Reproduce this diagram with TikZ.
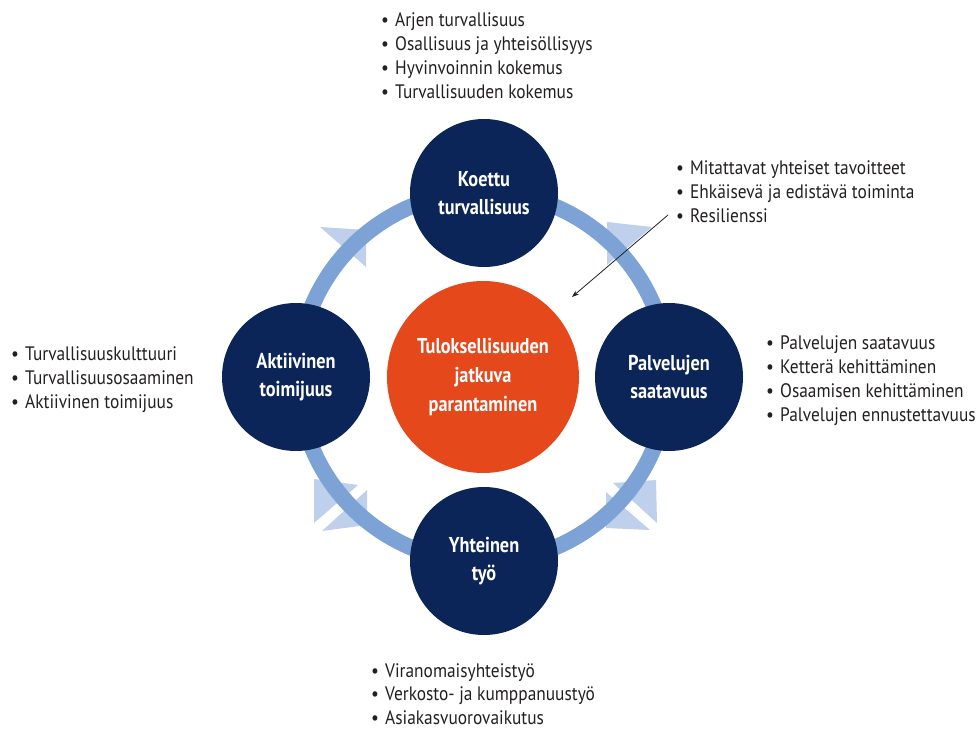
\documentclass[tikz,border=0pt]{standalone}
\usepackage{fontspec}
\setmainfont{PT Sans}[UprightFeatures={FakeStretch=0.89},BoldFeatures={FakeStretch=0.85}]
\usetikzlibrary{arrows.meta}
\definecolor{MyNavy}{RGB}{11,37,89}
\definecolor{MyOrange}{RGB}{228,72,27}
\definecolor{MyRing}{RGB}{125,163,214}
\definecolor{MyTip}{RGB}{190,208,235}
\definecolor{MyText}{RGB}{35,31,32}
\tikzset{
    theme/.style={
      circle,
      fill=MyNavy,
      minimum size=148pt,
      inner sep=0pt,
      text=white,
      align=center,
      font=\fontsize{21.5}{28}\selectfont\bfseries
    },
    core/.style={
      theme,
      fill=MyOrange,
      minimum size=192pt,
      font=\fontsize{21.5}{29}\selectfont\bfseries
    },
    point/.style={
      anchor=base west,
      inner sep=0pt,
      text=MyText,
      font=\fontsize{19.5}{24}\selectfont
    },
    chevron/.style={fill=MyTip, draw=none},
}
\newcommand{\listdot}{\makebox[14pt][l]{\textbullet}}

\begin{document}
\begin{tikzpicture}[x=1pt,y=-1pt]
    \useasboundingbox (0,0) rectangle (980,731);

    \fill[chevron] (320,227) -- (366,230) -- (366,267) -- cycle;
    \fill[chevron] (652,227) -- (607,222) -- (607,265) -- cycle;
    \fill[chevron] (314,479) -- (358,485) -- (314,523) -- cycle;
    \fill[chevron] (367,490) -- (367,525) -- (322,531) -- cycle;
    \fill[chevron] (656,480) -- (657,523) -- (613,483) -- cycle;
    \fill[chevron] (606,492) -- (606,528) -- (650,530) -- cycle;

    \draw[color=MyRing,line width=16pt] (483,377) circle (185pt);

    \draw (484,193) node[theme] (Koettu) {Koettu\\turvallisuus};
    \draw (669,377) node[theme] (Palvelut) {Palvelujen\\saatavuus};
    \draw (484,561) node[theme] (Yhteinen) {Yhteinen\\työ};
    \draw (296,377) node[theme] (Aktiivinen) {Aktiivinen\\toimijuus};
    \draw (483,377) node[core] (Tulos) {Tuloksellisuuden\\jatkuva\\parantaminen};

    \foreach \t [count=\i] in {Arjen turvallisuus,Osallisuus ja yhteisöllisyys,Hyvinvoinnin kokemus,Turvallisuuden kokemus}
      \draw (381,{26+24*(\i-1)}) node[point] (KoettuL\i) {\listdot\t};
    \foreach \t [count=\i] in {Mitattavat yhteiset tavoitteet,Ehkäisevä ja edistävä toiminta,Resilienssi}
      \draw (676,{174+24*(\i-1)}) node[point] (YleisL\i) {\listdot\t};
    \foreach \t [count=\i] in {Palvelujen saatavuus,Ketterä kehittäminen,Osaamisen kehittäminen,Palvelujen ennustettavuus}
      \draw (766,{349+24*(\i-1)}) node[point] (PalvelutL\i) {\listdot\t};
    \foreach \t [count=\i] in {Turvallisuuskulttuuri,Turvallisuusosaaminen,Aktiivinen toimijuus}
      \draw (11,{360+24*(\i-1)}) node[point] (AktiivinenL\i) {\listdot\t};
    \foreach \t [count=\i] in {Viranomaisyhteistyö,Verkosto- ja kumppanuustyö,Asiakasvuorovaikutus}
      \draw (371,{677+23.5*(\i-1)}) node[point] (YhteinenL\i) {\listdot\t};

    \coordinate (ResFrom) at (668,215);
    \coordinate (ResTo) at (572,297);
    \draw[-{Stealth[length=7pt,width=5pt]},color=MyText,line width=0.8pt] (ResFrom) -- (ResTo);
\end{tikzpicture}
\end{document}
